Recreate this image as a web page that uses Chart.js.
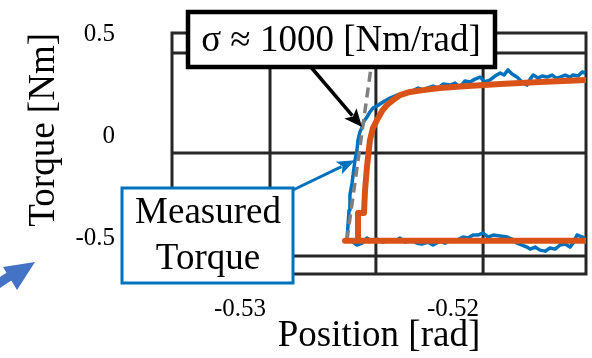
<!DOCTYPE html>
<html>
<head>
<meta charset="utf-8">
<script src="https://cdn.jsdelivr.net/npm/chart.js@4.4.1/dist/chart.umd.min.js"></script>
<style>
  html, body { margin: 0; padding: 0; background: #fff; }
  canvas { display: block; }
</style>
</head>
<body>
<canvas id="torqueChart" width="592" height="358"></canvas>
<script>
// Tick labels
const xTicks = [-0.53, -0.52];
const yTicks = [0.5, 0, -0.5];
// Grid lines sit a bit off the labels in the original figure
const xGridLines = [-0.52859, -0.52362, -0.51859];
const yGridLines = [0.407, -0.083, -0.588];

// Measured torque (lower branch right to left, then rise and upper branch)
const measuredPos = [
  -0.5138, -0.51404, -0.51418, -0.51437, -0.51451, -0.51474, -0.51498, -0.51521, -0.51545, -0.51568,
  -0.51592, -0.51615, -0.51638, -0.51653, -0.51676, -0.517, -0.51723, -0.51746, -0.51779, -0.51812,
  -0.51836, -0.51859, -0.51883, -0.51906, -0.5193, -0.51953, -0.51981, -0.52014, -0.52038, -0.52061,
  -0.52094, -0.52117, -0.52146, -0.52169, -0.52202, -0.52225, -0.52249, -0.52272, -0.52296, -0.52329,
  -0.52357, -0.5238, -0.52404, -0.52427, -0.52451, -0.52474, -0.52498,
  -0.52493, -0.52488, -0.52484, -0.52474, -0.52465, -0.5246, -0.52451, -0.52446, -0.52437, -0.52427,
  -0.52418, -0.52404, -0.5239, -0.52376, -0.52357, -0.52329, -0.52296, -0.52263, -0.52239, -0.52216,
  -0.52192, -0.52164, -0.52141, -0.52122, -0.52094, -0.5207, -0.52047, -0.52014, -0.51991, -0.51967,
  -0.51944, -0.5192, -0.51897, -0.51873, -0.5185, -0.51826, -0.51803, -0.51779, -0.51761, -0.51742,
  -0.51723, -0.517, -0.51676, -0.51653, -0.51638, -0.51624, -0.51601, -0.51582, -0.51559, -0.51535,
  -0.51516, -0.51498, -0.51474, -0.51451, -0.51437, -0.51413, -0.51394, -0.5138
];
const measuredTorque = [
  -0.5, -0.49, -0.485, -0.525, -0.544, -0.529, -0.534, -0.554, -0.549, -0.564,
  -0.559, -0.544, -0.554, -0.544, -0.534, -0.525, -0.505, -0.495, -0.49, -0.485,
  -0.495, -0.475, -0.485, -0.485, -0.5, -0.495, -0.51, -0.51, -0.525, -0.515,
  -0.534, -0.52, -0.529, -0.525, -0.51, -0.52, -0.5, -0.515, -0.51, -0.52,
  -0.505, -0.515, -0.5, -0.525, -0.534, -0.515, -0.51,
  -0.436, -0.363, -0.289, -0.23, -0.157, -0.118, -0.069, -0.02, 0.02, 0.044,
  0.074, 0.093, 0.118, 0.137, 0.147, 0.167, 0.186, 0.201, 0.206, 0.216,
  0.221, 0.235, 0.225, 0.235, 0.245, 0.235, 0.255, 0.25, 0.26, 0.24,
  0.27, 0.265, 0.279, 0.289, 0.265, 0.275, 0.294, 0.309, 0.299, 0.324,
  0.304, 0.289, 0.265, 0.25, 0.279, 0.299, 0.284, 0.294, 0.289, 0.299,
  0.284, 0.289, 0.299, 0.289, 0.299, 0.294, 0.314, 0.309
];

// Model torque
const modelPos = [
  -0.51376, -0.52507, -0.52446, -0.52446, -0.52418, -0.52413, -0.52404, -0.5239, -0.52376, -0.52357,
  -0.52333, -0.5231, -0.52282, -0.52249, -0.52202, -0.52141, -0.52061, -0.51967, -0.51779, -0.51592, -0.51376
];
const modelTorque = [
  -0.513, -0.513, -0.513, -0.377, -0.377, -0.265, -0.152, -0.02, 0.039, 0.078,
  0.123, 0.152, 0.176, 0.201, 0.216, 0.225, 0.235, 0.243, 0.255, 0.265, 0.275
];

// Stiffness fit (dashed)
const fitPos = [-0.52498, -0.5238];
const fitTorque = [-0.51, 0.373];

// Where the two callout arrows point
const sigmaTip = { x: -0.52427, y: 0.044 };
const measuredTip = { x: -0.5246, y: -0.118 };

const serif = "'Liberation Serif', 'Times New Roman', serif";

function toPoints(xs, ys) {
  return xs.map((v, i) => ({ x: v, y: ys[i] }));
}

function drawArrow(ctx, x0, y0, x1, y1, color, width, headLen, headHalf) {
  const ang = Math.atan2(y1 - y0, x1 - x0);
  const c = Math.cos(ang), s = Math.sin(ang);
  const bx = x1 - headLen * c, by = y1 - headLen * s;
  ctx.strokeStyle = color;
  ctx.lineWidth = width;
  ctx.beginPath();
  ctx.moveTo(x0, y0);
  ctx.lineTo(bx + 3 * c, by + 3 * s);
  ctx.stroke();
  ctx.fillStyle = color;
  ctx.beginPath();
  ctx.moveTo(x1, y1);
  ctx.lineTo(bx + headHalf * s, by - headHalf * c);
  ctx.lineTo(bx + 4 * c, by + 4 * s);
  ctx.lineTo(bx - headHalf * s, by + headHalf * c);
  ctx.closePath();
  ctx.fill();
}

const gridAndNotes = {
  id: "gridAndNotes",
  beforeDatasetsDraw(chart) {
    const { ctx, chartArea: a, scales: { x, y } } = chart;
    ctx.save();
    ctx.strokeStyle = "#262626";
    ctx.lineWidth = 3;
    ctx.beginPath();
    xGridLines.forEach((v) => {
      const px = x.getPixelForValue(v);
      ctx.moveTo(px, a.top);
      ctx.lineTo(px, a.bottom);
    });
    yGridLines.forEach((v) => {
      const py = y.getPixelForValue(v);
      ctx.moveTo(a.left, py);
      ctx.lineTo(a.right, py);
    });
    ctx.stroke();
    ctx.strokeRect(a.left, a.top, a.right - a.left, a.bottom - a.top);
    ctx.restore();
  },
  afterDraw(chart) {
    const { ctx, scales: { x, y } } = chart;
    ctx.save();

    // arrows
    drawArrow(ctx, 310, 66, x.getPixelForValue(sigmaTip.x), y.getPixelForValue(sigmaTip.y), "#000", 3.5, 18, 8);
    drawArrow(ctx, 293, 190, x.getPixelForValue(measuredTip.x), y.getPixelForValue(measuredTip.y), "#0072BD", 3, 18, 7);

    // sigma box
    ctx.fillStyle = "#fff";
    ctx.fillRect(188, 12, 307, 55);
    ctx.strokeStyle = "#000";
    ctx.lineWidth = 4.5;
    ctx.strokeRect(188, 12, 307, 55);
    ctx.fillStyle = "#000";
    ctx.font = "37px " + serif;
    ctx.textAlign = "center";
    ctx.textBaseline = "alphabetic";
    ctx.fillText("σ ≈ 1000 [Nm/rad]", 341, 51);

    // measured torque box
    ctx.fillStyle = "#fff";
    ctx.fillRect(122, 188, 171, 95);
    ctx.strokeStyle = "#0072BD";
    ctx.lineWidth = 3;
    ctx.strokeRect(122, 188, 171, 95);
    ctx.fillStyle = "#000";
    ctx.fillText("Measured", 208, 223);
    ctx.fillText("Torque", 208, 269);

    // piece of an arrow from the neighbouring panel
    ctx.fillStyle = "#4472C4";
    ctx.beginPath();
    ctx.moveTo(35, 262);
    ctx.lineTo(3, 267);
    ctx.lineTo(6.5, 272.7);
    ctx.lineTo(-5, 280.3);
    ctx.lineTo(-5, 291.3);
    ctx.lineTo(11.3, 280.6);
    ctx.lineTo(17, 290);
    ctx.closePath();
    ctx.fill();

    ctx.restore();
  },
};

document.addEventListener("DOMContentLoaded", function () {
  const ctx = document.getElementById("torqueChart").getContext("2d");
  new Chart(ctx, {
    type: "scatter",
    data: {
      datasets: [
        {
          label: "Model",
          data: toPoints(modelPos, modelTorque),
          showLine: true,
          borderColor: "#D95319",
          borderWidth: 6,
          borderJoinStyle: "round",
          borderCapStyle: "round",
          pointRadius: 0,
          tension: 0,
        },
        {
          label: "Stiffness",
          data: toPoints(fitPos, fitTorque),
          showLine: true,
          borderColor: "#7f7f7f",
          borderWidth: 3.5,
          borderDash: [10, 6],
          pointRadius: 0,
        },
        {
          label: "Measured Torque",
          data: toPoints(measuredPos, measuredTorque),
          showLine: true,
          borderColor: "#0072BD",
          borderWidth: 3.5,
          borderJoinStyle: "round",
          pointRadius: 0,
          tension: 0,
        },
      ],
    },
    options: {
      responsive: false,
      animation: false,
      layout: { padding: { top: 33, right: 6, bottom: 0, left: 0 } },
      plugins: {
        legend: { display: false },
        tooltip: { enabled: false },
      },
      scales: {
        x: {
          type: "linear",
          min: -0.53319,
          max: -0.51376,
          afterBuildTicks: (s) => {
            s.ticks = xTicks.map((v) => ({ value: v }));
          },
          afterFit: (s) => {
            s.height = 84;
            s.paddingLeft = 0;
            s.paddingRight = 0;
          },
          grid: { display: false, drawTicks: false },
          border: { display: false },
          ticks: {
            font: { family: serif, size: 25 },
            color: "#000",
            padding: 20,
            maxRotation: 0,
            autoSkip: false,
            callback: (v) => String(v),
          },
          title: {
            display: true,
            text: "Position [rad]",
            font: { family: serif, size: 37 },
            color: "#000",
            padding: 0,
          },
        },
        y: {
          type: "linear",
          min: -0.676,
          max: 0.505,
          afterBuildTicks: (s) => {
            s.ticks = yTicks.map((v) => ({ value: v }));
          },
          afterFit: (s) => {
            s.width = 172;
            s.paddingTop = 0;
            s.paddingBottom = 0;
          },
          grid: { display: false, drawTicks: false },
          border: { display: false },
          ticks: {
            font: { family: serif, size: 25 },
            color: "#000",
            padding: 57,
            autoSkip: false,
            callback: (v) => String(v),
          },
          title: {
            display: true,
            text: "Torque [Nm]",
            align: "end",
            font: { family: serif, size: 37 },
            color: "#000",
            padding: { top: 22, bottom: 0 },
          },
        },
      },
    },
    plugins: [gridAndNotes],
  });
});
</script>
</body>
</html>
